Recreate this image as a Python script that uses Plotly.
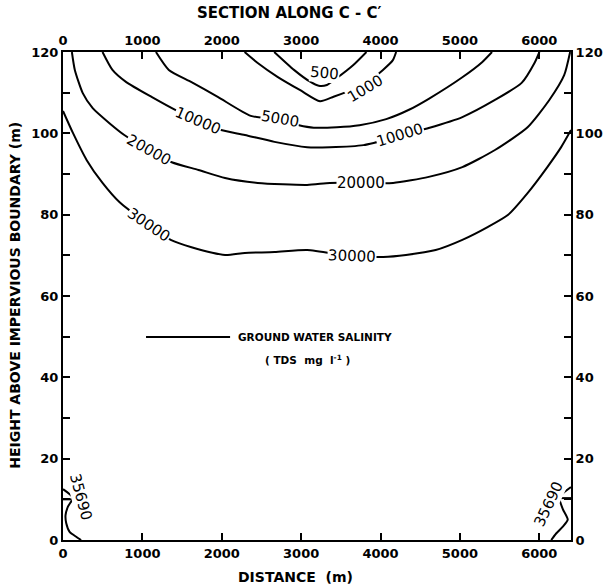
import plotly.graph_objects as go

# ---- contour data: distance (m) and height (m) ----
c500_x = [2661, 2910, 3113, 3222, 3325, 3450, 3658, 3823]
c500_y = [120, 115.6, 112.7, 111.7, 111.9, 113.6, 116.8, 120]

c1000_x = [2288, 2453, 2702, 2989, 3238, 3408, 3574, 3798, 4031, 4156, 4197]
c1000_y = [120, 117.3, 113.9, 110.6, 107.9, 109.0, 110.2, 112.1, 115.6, 118.0, 120]

c5000_x = [1171, 1333, 1619, 1955, 2366, 2740, 2973, 3159, 3450, 3736, 4072, 4359, 4608, 5031, 5280, 5405]
c5000_y = [120, 115.6, 112.6, 108.9, 104.3, 103.3, 102.0, 101.4, 101.5, 102.0, 103.5, 105.8, 108.5, 113.8, 117.5, 120]

c10000_x = [498, 623, 797, 1121, 1420, 1706, 1993, 2291, 2665, 3076, 3362, 3786, 4247, 4608, 5031, 5442, 5778, 5940, 6002]
c10000_y = [120, 115.6, 112.6, 108.9, 105.7, 103.0, 100.8, 99.6, 97.9, 96.6, 96.6, 97.1, 99.4, 101.3, 104.0, 108.2, 112.4, 117.3, 120]

c20000_x = [112, 149, 249, 374, 585, 772, 1083, 1370, 1706, 2042, 2453, 3076, 3362, 3748, 4159, 4608, 5031, 5442, 5853, 6127, 6314, 6389]
c20000_y = [120, 115.6, 109.9, 106.2, 102.5, 99.6, 95.9, 92.9, 91.0, 89.0, 87.8, 87.3, 87.8, 87.8, 87.8, 89.3, 91.7, 95.9, 101.5, 108.2, 114.3, 120]

c30000_x = [0, 125, 299, 498, 710, 1083, 1357, 1619, 2042, 2291, 2665, 3076, 3636, 4035, 4321, 4695, 5031, 5355, 5604, 5853, 6102, 6276, 6400]
c30000_y = [105.5, 100.1, 93.4, 87.8, 83.1, 77.5, 73.8, 72.0, 70.1, 70.6, 70.8, 71.3, 69.8, 69.6, 70.1, 71.3, 73.8, 77.0, 79.9, 85.3, 91.7, 96.6, 100.8]

c35690L_x = [0, 125, 62, 32, 41, 83, 166, 228, None, 0, 110]
c35690L_y = [12.5, 10.4, 8.2, 6.1, 4.1, 2.0, 0.8, 0, None, 10.0, 10.0]

c35690R_x = [6400, 6254, 6297, 6359, 6297, 6213, 6151, None, 6254, 6400]
c35690R_y = [13.0, 10.5, 7.6, 5.0, 3.3, 1.6, 0, None, 10.3, 10.3]

# contour labels
label_text = ["500", "1000", "5000", "10000", "10000", "20000", "20000", "30000", "30000", "35690", "35690"]
label_x = [3290, 3800, 2740, 1706, 4247, 1083, 3748, 1083, 3636, 225, 6120]
label_y = [114.8, 111.0, 103.5, 103.0, 99.6, 95.9, 87.8, 77.5, 69.8, 10.6, 8.8]
label_angle = [5, -31, 10, 23, -17, 29, 0, 34, 2, 75, -65]

x_ticks = [0, 1000, 2000, 3000, 4000, 5000, 6000]
y_ticks = [0, 20, 40, 60, 80, 100, 120]

fig = go.Figure()
for xs, ys in [(c500_x, c500_y), (c1000_x, c1000_y), (c5000_x, c5000_y),
               (c10000_x, c10000_y), (c20000_x, c20000_y), (c30000_x, c30000_y),
               (c35690L_x, c35690L_y), (c35690R_x, c35690R_y)]:
    fig.add_trace(go.Scatter(x=xs, y=ys, mode="lines",
                             line=dict(color="black", width=2, shape="spline", smoothing=0.6),
                             showlegend=False, hoverinfo="skip", cliponaxis=True))

# invisible trace for the top/right axes
fig.add_trace(go.Scatter(x=[0, 6400], y=[0, 120], xaxis="x2", yaxis="y2", mode="markers",
                         marker=dict(opacity=0), showlegend=False, hoverinfo="skip"))

tickfont = dict(family="DejaVu Sans", size=13, color="black", weight="bold")
axis_common = dict(showgrid=False, zeroline=False, showline=True, linecolor="black",
                   linewidth=2, ticks="inside", ticklen=7, tickwidth=1.5, tickcolor="black",
                   tickfont=tickfont)
y_minor = dict(dtick=10, ticks="inside", ticklen=7, tickwidth=1.5, tickcolor="black", showgrid=False)

fig.update_layout(
    width=615, height=587,
    margin=dict(l=63, r=38, t=52, b=47),
    paper_bgcolor="white", plot_bgcolor="white",
    xaxis=dict(range=[0, 6400], tickvals=x_ticks, **axis_common),
    xaxis2=dict(range=[0, 6400], tickvals=x_ticks, overlaying="x", side="top",
                matches="x", **axis_common),
    yaxis=dict(range=[0, 120], tickvals=y_ticks, minor=y_minor, **axis_common),
    yaxis2=dict(range=[0, 120], tickvals=y_ticks, minor=y_minor, overlaying="y",
                side="right", matches="y", **axis_common),
)

for t, x, y, a in zip(label_text, label_x, label_y, label_angle):
    fig.add_annotation(x=x, y=y, text=t, textangle=a, showarrow=False,
                       xanchor="center", yanchor="middle",
                       font=dict(family="DejaVu Sans", size=15, color="black"),
                       bgcolor="white", borderpad=0)

# legend
fig.add_shape(type="line", xref="x", yref="y", x0=1046, x1=2105, y0=49.9, y1=49.9,
              line=dict(color="black", width=2))
fig.add_annotation(x=2179, y=49.9, xanchor="left", yanchor="middle", text="GROUND WATER SALINITY",
                   showarrow=False, font=dict(family="DejaVu Sans", size=10.5, color="black", weight="bold"))
fig.add_annotation(x=3076, y=44.3, xanchor="center", yanchor="middle", text="( TDS  mg  l<sup>-1</sup> )",
                   showarrow=False, font=dict(family="DejaVu Sans", size=10.5, color="black", weight="bold"))

# titles
fig.add_annotation(xref="paper", yref="paper", x=0.446, y=1.08, xanchor="center", yanchor="middle",
                   text="SECTION ALONG C - C′",
                   showarrow=False, font=dict(family="DejaVu Sans", size=15, color="black", weight="bold"))
fig.add_annotation(xref="paper", yref="paper", x=0.457, y=-0.076, xanchor="center", yanchor="middle",
                   text="DISTANCE  (m)",
                   showarrow=False, font=dict(family="DejaVu Sans", size=14, color="black", weight="bold"))
fig.add_annotation(xref="paper", yref="paper", x=-0.095, y=0.502, xanchor="center", yanchor="middle",
                   textangle=-90, text="HEIGHT ABOVE IMPERVIOUS BOUNDARY (m)",
                   showarrow=False, font=dict(family="DejaVu Sans", size=14, color="black", weight="bold"))

fig.write_html("out.html", config={"displayModeBar": False},
               post_script="document.body.style.margin='0';")
